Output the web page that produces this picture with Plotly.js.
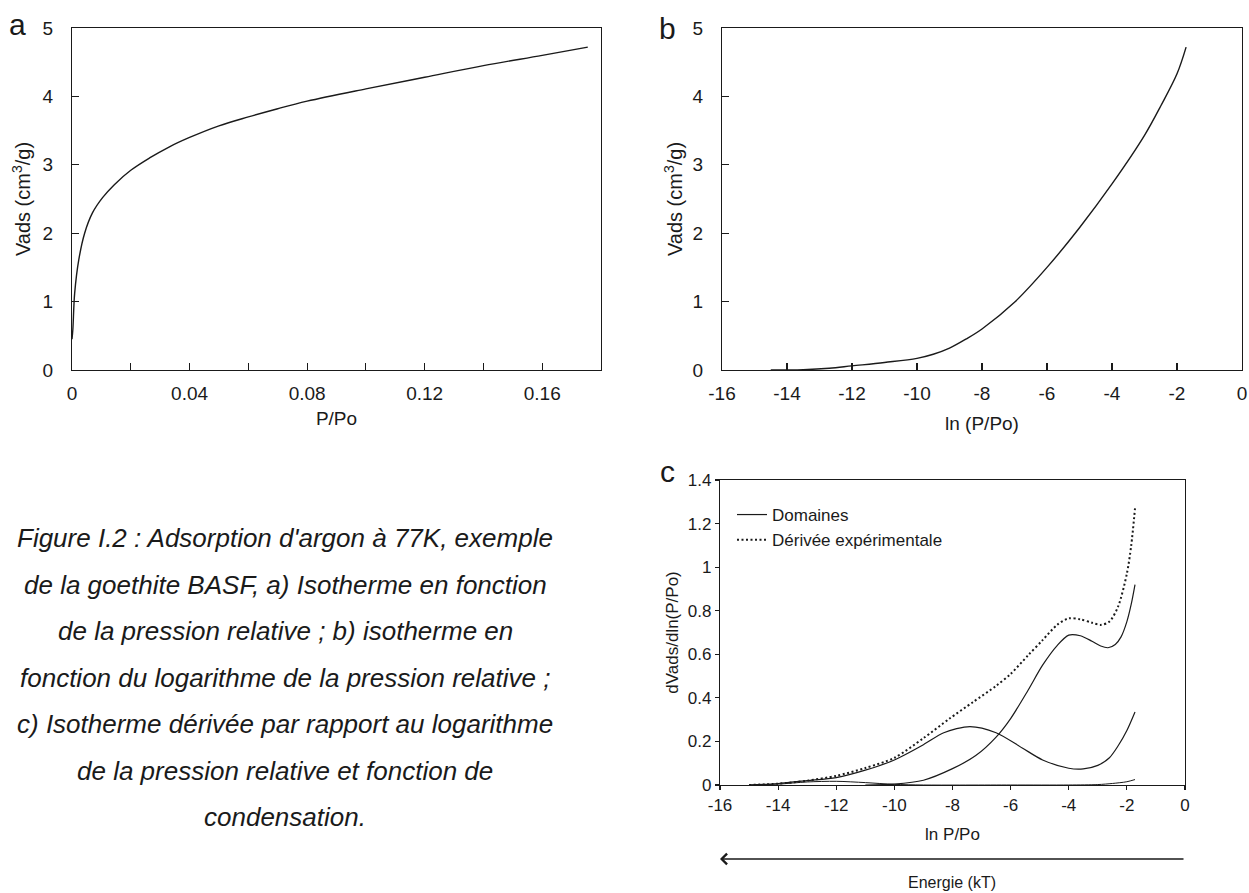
<!DOCTYPE html>
<html>
<head>
<meta charset="utf-8">
<script src="https://cdn.plot.ly/plotly-3.0.1.min.js"></script>
<style>html,body{margin:0;padding:0;background:#fff;}#chart{width:1249px;height:893px;}</style>
</head>
<body>
<div id="chart"></div>
<script>
// ---- Panel a : isotherm vs relative pressure ----
const pRel  = [0, 0.0003, 0.0009, 0.0023, 0.0043, 0.007, 0.0104, 0.0144, 0.02, 0.0264, 0.033, 0.04, 0.05, 0.06, 0.07, 0.08, 0.10, 0.12, 0.14, 0.16, 0.1755];
const vadsA = [0.45, 0.6, 1.12, 1.61, 2.0, 2.3, 2.52, 2.71, 2.92, 3.1, 3.26, 3.4, 3.57, 3.7, 3.82, 3.93, 4.11, 4.28, 4.45, 4.6, 4.72];
const aTickVals = [0, 0.04, 0.08, 0.12, 0.16];
const aTickText = ['0', '0.04', '0.08', '0.12', '0.16'];

// ---- Panel b : isotherm vs ln(P/Po) ----
const lnPb  = [-14.5, -13.5, -12.7, -12, -11, -10, -9.5, -9, -8.5, -8, -7, -6, -5, -4, -3, -2.5, -2, -1.72];
const vadsB = [0, 0.005, 0.025, 0.06, 0.11, 0.17, 0.23, 0.32, 0.45, 0.6, 0.99, 1.5, 2.08, 2.72, 3.43, 3.86, 4.33, 4.72];
const lnTickVals = [-16, -14, -12, -10, -8, -6, -4, -2, 0];
const lnTickText = ['-16', '-14', '-12', '-10', '-8', '-6', '-4', '-2', '0'];
const vTickVals = [0, 1, 2, 3, 4, 5];

// ---- Panel c : derivative and condensation domains ----
const lnPDeriv = [-15, -14, -13, -12, -11, -10, -9, -8.1, -7.3, -6.5, -6.0, -5.4, -4.9, -4.4, -4.0, -3.6, -3.2, -2.9, -2.6, -2.3, -2.0, -1.85, -1.72];
const derivExp = [0.0, 0.006, 0.02, 0.042, 0.078, 0.125, 0.215, 0.305, 0.38, 0.455, 0.51, 0.595, 0.665, 0.735, 0.765, 0.76, 0.745, 0.735, 0.75, 0.82, 0.97, 1.1, 1.27];
const lnPDom1 = [-11, -10, -9, -8, -7.2, -6.5, -6.0, -5.4, -4.9, -4.4, -4.0, -3.6, -3.2, -2.9, -2.65, -2.4, -2.2, -2.0, -1.85, -1.72];
const dom1    = [0.0, 0.004, 0.022, 0.075, 0.135, 0.22, 0.305, 0.435, 0.55, 0.64, 0.688, 0.685, 0.66, 0.638, 0.63, 0.645, 0.68, 0.75, 0.83, 0.92];
const lnPDom2 = [-15, -14, -13, -12, -11, -10, -9, -8.3, -7.4, -6.5, -5.6, -4.9, -4.0, -3.5, -3.0, -2.6, -2.3, -2.0, -1.72];
const dom2    = [0.0, 0.007, 0.02, 0.034, 0.068, 0.115, 0.185, 0.24, 0.268, 0.24, 0.17, 0.115, 0.077, 0.074, 0.09, 0.125, 0.18, 0.25, 0.335];
const lnPDom3 = [-15, -14, -13, -12, -11, -10, -9, -6, -4, -3, -2.5, -2.0, -1.72];
const dom3    = [0.0, 0.004, 0.014, 0.017, 0.011, 0.003, 0.0, 0.0, 0.0, 0.002, 0.007, 0.015, 0.025];
const cTickVals = [0, 0.2, 0.4, 0.6, 0.8, 1.0, 1.2, 1.4];
const cTickText = ['0', '0.2', '0.4', '0.6', '0.8', '1', '1.2', '1.4'];
const seriesNames = ['Domaines', 'Dérivée expérimentale'];

// ---- Texts ----
const panelLetters = ['a', 'b', 'c'];
const captionLines = [
  "Figure I.2 : Adsorption d'argon à 77K, exemple",
  "de la goethite BASF, a) Isotherme en fonction",
  "de la pression relative ; b) isotherme en",
  "fonction du logarithme de la pression relative ;",
  "c) Isotherme dérivée par rapport au logarithme",
  "de la pression relative et fonction de",
  "condensation."
];
const energyLabel = 'Energie (kT)';

// ---- Layout helpers (pixel -> paper) ----
const W = 1249, H = 893;
const px = v => v / W;
const py = v => 1 - v / H;
const FONT = 'Liberation Sans, Arial, Helvetica, sans-serif';
const INK = '#1a1a1a';

const lineBlack = {color: INK, width: 1.4, shape: 'spline', smoothing: 1};

const traces = [
  {x: pRel, y: vadsA, xaxis: 'x', yaxis: 'y', mode: 'lines', line: lineBlack, showlegend: false, hoverinfo: 'skip'},
  {x: lnPb, y: vadsB, xaxis: 'x2', yaxis: 'y2', mode: 'lines', line: lineBlack, showlegend: false, hoverinfo: 'skip'},
  {x: lnPDom1, y: dom1, xaxis: 'x3', yaxis: 'y3', mode: 'lines', name: seriesNames[0], legendgroup: 'dom',
   line: {color: INK, width: 1.2, shape: 'spline', smoothing: 0.8}, showlegend: true},
  {x: lnPDom2, y: dom2, xaxis: 'x3', yaxis: 'y3', mode: 'lines', name: seriesNames[0], legendgroup: 'dom',
   line: {color: INK, width: 1.2, shape: 'spline', smoothing: 0.8}, showlegend: false},
  {x: lnPDom3, y: dom3, xaxis: 'x3', yaxis: 'y3', mode: 'lines', name: seriesNames[0], legendgroup: 'dom',
   line: {color: INK, width: 1.0, shape: 'spline', smoothing: 0.8}, showlegend: false},
  {x: lnPDeriv, y: derivExp, xaxis: 'x3', yaxis: 'y3', mode: 'lines', name: seriesNames[1],
   line: {color: INK, width: 2, dash: '2px,2.5px', shape: 'spline', smoothing: 0.8}, showlegend: true}
];

const baseAxis = {
  showline: true, mirror: true, linecolor: INK, linewidth: 1.2,
  showgrid: false, zeroline: false, ticks: 'inside', ticklen: 7, tickwidth: 1.2, tickcolor: INK,
  tickfont: {family: FONT, size: 19, color: INK}, fixedrange: true
};

const layout = {
  width: W, height: H,
  margin: {l: 0, r: 0, t: 0, b: 0},
  paper_bgcolor: '#ffffff', plot_bgcolor: '#ffffff',
  font: {family: FONT, color: INK, size: 19},
  showlegend: true,
  legend: {x: px(732), y: py(497), xanchor: 'left', yanchor: 'top', bgcolor: 'rgba(0,0,0,0)',
           font: {family: FONT, size: 17, color: INK}, traceorder: 'normal', tracegroupgap: 0},
  xaxis: Object.assign({}, baseAxis, {
    domain: [px(72), px(601)], anchor: 'y', range: [0, 0.18],
    tickmode: 'array', tickvals: aTickVals, ticktext: aTickText, ticklabelstandoff: 6,
    minor: {dtick: 0.02, tick0: 0, ticks: 'inside', ticklen: 7, tickwidth: 1.2, tickcolor: INK, showgrid: false},
    title: {text: 'P/Po', font: {family: FONT, size: 19, color: INK}, standoff: 8}
  }),
  yaxis: Object.assign({}, baseAxis, {
    domain: [py(370), py(28)], anchor: 'x', range: [0, 5],
    tickmode: 'array', tickvals: vTickVals, ticklabelstandoff: 14,
    title: {text: 'Vads (cm<sup>3</sup>/g)', font: {family: FONT, size: 20, color: INK}, standoff: 6}
  }),
  xaxis2: Object.assign({}, baseAxis, {
    domain: [px(722), px(1242)], anchor: 'y2', range: [-16, 0],
    tickmode: 'array', tickvals: lnTickVals, ticktext: lnTickText, ticklabelstandoff: 6,
    title: {text: 'ln (P/Po)', font: {family: FONT, size: 19, color: INK}, standoff: 13}
  }),
  yaxis2: Object.assign({}, baseAxis, {
    domain: [py(370), py(28)], anchor: 'x2', range: [0, 5],
    tickmode: 'array', tickvals: vTickVals, ticklabelstandoff: 14,
    title: {text: 'Vads (cm<sup>3</sup>/g)', font: {family: FONT, size: 20, color: INK}, standoff: 4}
  }),
  xaxis3: Object.assign({}, baseAxis, {
    domain: [px(720), px(1185)], anchor: 'y3', range: [-16, 0],
    ticks: 'outside', ticklen: 4,
    tickmode: 'array', tickvals: lnTickVals, ticktext: lnTickText,
    tickfont: {family: FONT, size: 17, color: INK},
    title: {text: 'ln P/Po', font: {family: FONT, size: 17, color: INK}, standoff: 14}
  }),
  yaxis3: Object.assign({}, baseAxis, {
    domain: [py(785), py(480)], anchor: 'x3', range: [0, 1.4],
    ticks: 'outside', ticklen: 4,
    tickmode: 'array', tickvals: cTickVals, ticktext: cTickText,
    tickfont: {family: FONT, size: 17, color: INK},
    title: {text: 'dVads/dln(P/Po)', font: {family: FONT, size: 17, color: INK}, standoff: 4}
  }),
  annotations: []
};

// panel letters
const letterPos = [[17, 25], [667, 28], [668, 472]];
panelLetters.forEach((t, i) => {
  layout.annotations.push({text: t, xref: 'paper', yref: 'paper', x: px(letterPos[i][0]), y: py(letterPos[i][1]),
    xanchor: 'center', yanchor: 'middle', showarrow: false, font: {family: FONT, size: 30, color: INK}});
});

// caption
captionLines.forEach((t, i) => {
  layout.annotations.push({text: t, xref: 'paper', yref: 'paper', x: px(285), y: py(538 + i * 46.5),
    xanchor: 'center', yanchor: 'middle', showarrow: false,
    font: {family: FONT, size: 26, color: INK, style: 'italic'}});
});

// energy arrow + label
layout.annotations.push({text: '', xref: 'paper', yref: 'paper', x: px(720), y: py(859),
  ax: 465, ay: 0, axref: 'pixel', ayref: 'pixel', showarrow: true, arrowhead: 4, arrowsize: 1.6,
  arrowwidth: 1.3, arrowcolor: INK});
layout.annotations.push({text: energyLabel, xref: 'paper', yref: 'paper', x: px(952), y: py(882),
  xanchor: 'center', yanchor: 'middle', showarrow: false, font: {family: FONT, size: 16, color: INK}});

Plotly.newPlot('chart', traces, layout, {staticPlot: true, displayModeBar: false});
</script>
</body>
</html>
